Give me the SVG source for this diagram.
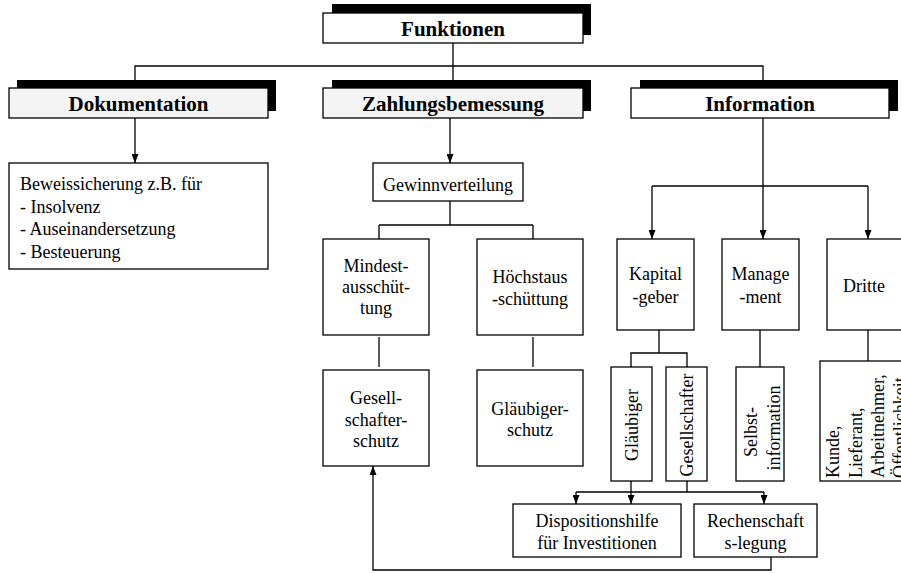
<svg xmlns="http://www.w3.org/2000/svg" width="901" height="573" viewBox="0 0 901 573">
<style>
.bx{fill:#ffffff;stroke:#000;stroke-width:1.3}
.gy{fill:#f4f4f4;stroke:#000;stroke-width:1.3}
.sh{fill:#000}
.c{fill:none;stroke:#000;stroke-width:1.3}
.t{font-family:"Liberation Serif","Times New Roman",serif;font-size:18px;fill:#000}
.m{text-anchor:middle}
.b{font-family:"Liberation Serif","Times New Roman",serif;font-size:21px;font-weight:bold;fill:#000;text-anchor:middle}
</style>
<defs>
<marker id="ah" viewBox="0 0 9 7" markerWidth="9" markerHeight="7" refX="9" refY="3.5" orient="auto" markerUnits="userSpaceOnUse">
<path d="M0,0 L9,3.5 L0,7 z" fill="#000"/>
</marker>
</defs>
<rect width="901" height="573" fill="#fff"/>
<g id="connectors">
<path class="c" d="M453,43 V88"/>
<path class="c" d="M135,88 V66 H763 V88"/>
<path class="c" d="M135,118 V163" marker-end="url(#ah)"/>
<path class="c" d="M450,118 V163" marker-end="url(#ah)"/>
<path class="c" d="M450,201 V225 M379,225 H533 M379,225 V239 M533,225 V239"/>
<path class="c" d="M379,337 V367 M533,337 V367"/>
<path class="c" d="M763,118 V239" marker-end="url(#ah)"/>
<path class="c" d="M652,186 H868"/>
<path class="c" d="M652,186 V239" marker-end="url(#ah)"/>
<path class="c" d="M868,186 V239" marker-end="url(#ah)"/>
<path class="c" d="M659,330 V353 H631 V367 M659,353 H687 V367"/>
<path class="c" d="M760,330 V367 M868,330 V361"/>
<path class="c" d="M631,481 V504" marker-end="url(#ah)"/>
<path class="c" d="M687,481 V492 M576,492 H764"/>
<path class="c" d="M576,492 V504" marker-end="url(#ah)"/>
<path class="c" d="M764,492 V504" marker-end="url(#ah)"/>
<path class="c" d="M771,557 V570 H373 V466" marker-end="url(#ah)"/>
</g>
<g id="funktionen">
<rect class="sh" x="332" y="4" width="259" height="31"/>
<rect class="bx" x="323" y="13" width="260" height="30"/>
<text class="b" x="453" y="36">Funktionen</text>
</g>
<g id="dokumentation">
<rect class="sh" x="17" y="80" width="259" height="31"/>
<rect class="gy" x="9" y="88" width="259" height="30"/>
<text class="b" x="138.5" y="111">Dokumentation</text>
</g>
<g id="zahlungsbemessung">
<rect class="sh" x="332" y="80" width="259" height="31"/>
<rect class="gy" x="323" y="88" width="260" height="30"/>
<text class="b" x="453" y="111">Zahlungsbemessung</text>
</g>
<g id="information">
<rect class="sh" x="640" y="80" width="258" height="31"/>
<rect class="bx" x="631" y="88" width="258" height="30"/>
<text class="b" x="760" y="111">Information</text>
</g>
<g id="beweissicherung">
<rect class="bx" x="9" y="163" width="259" height="106"/>
<text class="t" x="20" y="190">Beweissicherung z.B. für</text>
<text class="t" x="20" y="212.5">- Insolvenz</text>
<text class="t" x="20" y="235">- Auseinandersetzung</text>
<text class="t" x="20" y="257.5">- Besteuerung</text>
</g>
<g id="gewinnverteilung">
<rect class="bx" x="373" y="163" width="150" height="38"/>
<text class="t m" x="448" y="191">Gewinnverteilung</text>
</g>
<g id="mindestausschuettung">
<rect class="bx" x="323" y="239" width="106" height="96"/>
<text class="t m" x="376" y="272">Mindest-</text>
<text class="t m" x="376" y="293">ausschüt-</text>
<text class="t m" x="376" y="314">tung</text>
</g>
<g id="hoechstausschuettung">
<rect class="bx" x="477" y="239" width="106" height="96"/>
<text class="t m" x="530" y="283">Höchstaus</text>
<text class="t m" x="530" y="305">-schüttung</text>
</g>
<g id="gesellschafterschutz">
<rect class="bx" x="323" y="370" width="106" height="96"/>
<text class="t m" x="376" y="404">Gesell-</text>
<text class="t m" x="376" y="426">schafter-</text>
<text class="t m" x="376" y="447">schutz</text>
</g>
<g id="glaeubigerschutz">
<rect class="bx" x="477" y="370" width="106" height="96"/>
<text class="t m" x="530" y="415">Gläubiger-</text>
<text class="t m" x="530" y="436">schutz</text>
</g>
<g id="kapitalgeber">
<rect class="bx" x="617" y="239" width="77" height="91"/>
<text class="t m" x="655.5" y="280">Kapital</text>
<text class="t m" x="655.5" y="303">-geber</text>
</g>
<g id="management">
<rect class="bx" x="722" y="239" width="77" height="91"/>
<text class="t m" x="760.5" y="280">Manage</text>
<text class="t m" x="760.5" y="303">-ment</text>
</g>
<g id="dritte">
<rect class="bx" x="827" y="239" width="80" height="91"/>
<text class="t m" x="864" y="292">Dritte</text>
</g>
<g id="glaeubiger">
<rect class="bx" x="611" y="367" width="41" height="114"/>
<text class="t m" transform="translate(638,425) rotate(-90)">Gläubiger</text>
</g>
<g id="gesellschafter">
<rect class="bx" x="666" y="367" width="41" height="114"/>
<text class="t m" transform="translate(693,425) rotate(-90)">Gesellschafter</text>
</g>
<g id="selbstinformation">
<rect class="bx" x="736" y="367" width="48" height="114"/>
<text class="t m" transform="translate(757,432) rotate(-90)">Selbst-</text>
<text class="t m" transform="translate(780,428) rotate(-90)">information</text>
</g>
<g id="kunde">
<rect class="bx" x="820" y="361" width="90" height="120"/>
<text class="t" transform="translate(839,478) rotate(-90)">Kunde,</text>
<text class="t" transform="translate(862,478) rotate(-90)">Lieferant,</text>
<text class="t" transform="translate(884,478) rotate(-90)">Arbeitnehmer,</text>
<text class="t" transform="translate(906,478) rotate(-90)">Öffentlichkeit</text>
</g>
<g id="dispositionshilfe">
<rect class="bx" x="513" y="504" width="168" height="53"/>
<text class="t m" x="597" y="527">Dispositionshilfe</text>
<text class="t m" x="597" y="549">für Investitionen</text>
</g>
<g id="rechenschaftslegung">
<rect class="bx" x="694" y="504" width="123" height="53"/>
<text class="t m" x="755.5" y="527">Rechenschaft</text>
<text class="t m" x="755.5" y="549">s-legung</text>
</g>
</svg>
